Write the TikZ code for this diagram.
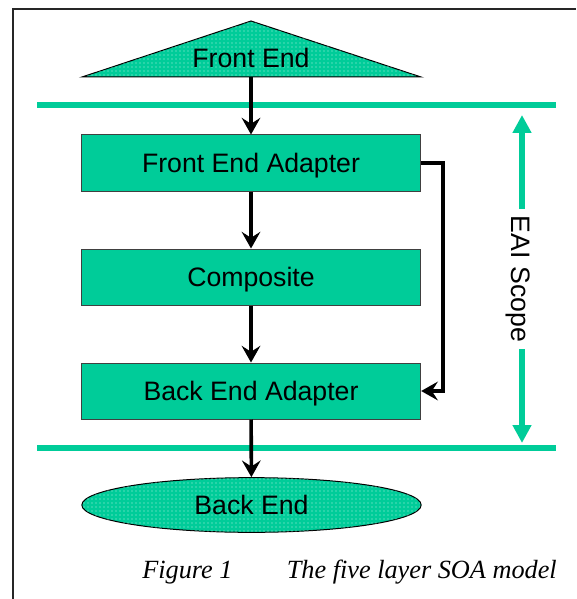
\documentclass[tikz,border=0pt]{standalone}
\usepackage{fontspec}
\setmainfont{Liberation Serif}
\setsansfont{Liberation Sans}
\usetikzlibrary{arrows.meta,shapes.geometric,patterns}

\definecolor{eaiteal}{RGB}{0,204,153}

\tikzset{
    labelfont/.style={font=\sffamily\fontsize{20}{24}\selectfont, text height=14.5pt, text depth=0pt},
    layer/.style={labelfont, draw=black!75, line width=0.75pt, fill=eaiteal,
        minimum width=254.5pt, minimum height=42pt, inner sep=0pt},
    speckled/.style={postaction={pattern=dots, pattern color=white!70!eaiteal}},
    flow/.style={-{Stealth[length=12.5pt,width=14pt,inset=4.5pt]}, line width=2.7pt},
    bound/.style={eaiteal, line width=4.5pt},
    captionfont/.style={font=\itshape\fontsize{19.7}{24}\selectfont, inner sep=0pt},
}

\begin{document}
\begin{tikzpicture}[x=0.75pt, y=-0.75pt]
    \useasboundingbox (0,0) rectangle (576,599);

    % Frame round the figure
    \draw [line width=1.5pt, black!85] (13,599) -- (13,9) -- (576,9);

    % Boundaries of the EAI scope
    \draw [bound] (37,105) -- (556,105);
    \draw [bound] (37,448) -- (556,448);

    % Front end triangle
    \filldraw [fill=eaiteal, draw=black, line width=0.75pt, speckled] (82,77) -- (251,21) -- (421,77) -- cycle;
    \node [labelfont, inner sep=0pt] (fe) at (251,58) {Front End};
    \coordinate (febase) at (251,77);

    % The three layers inside the scope
    \node [layer] (fea) at (251,163) {Front End Adapter};
    \node [layer] (comp) at (251,277) {Composite};
    \node [layer] (bea) at (251,391) {Back End Adapter};

    % Back end ellipse
    \node [ellipse, labelfont, draw=black, line width=0.75pt, fill=eaiteal, speckled,
        minimum width=254.5pt, minimum height=41pt, inner sep=0pt] (be) at (251.5,505) {Back End};

    % Flow between the layers
    \draw [flow] (febase) -- (fea.north);
    \draw [flow] (fea) -- (comp);
    \draw [flow] (comp) -- (bea);
    \draw [flow] (bea) -- (be);
    \draw [flow] (fea.east) -- ++(22,0) |- (bea.east);

    % EAI scope marker
    \coordinate (scopetop) at (522,115);
    \coordinate (scopebot) at (522,443);
    \draw [eaiteal, line width=4.5pt, {Triangle[length=13.5pt,width=13.5pt]}-{Triangle[length=13.5pt,width=13.5pt]}] (scopetop) -- (scopebot);
    \node [labelfont, fill=white, rotate=-90, inner sep=5pt] (scope) at (521,279) {EAI Scope};

    % Caption
    \node [captionfont, anchor=base west] (fignum) at (142,578) {Figure 1};
    \node [captionfont, anchor=base east] (figtitle) at (557,578) {The five layer SOA model};
\end{tikzpicture}
\end{document}
